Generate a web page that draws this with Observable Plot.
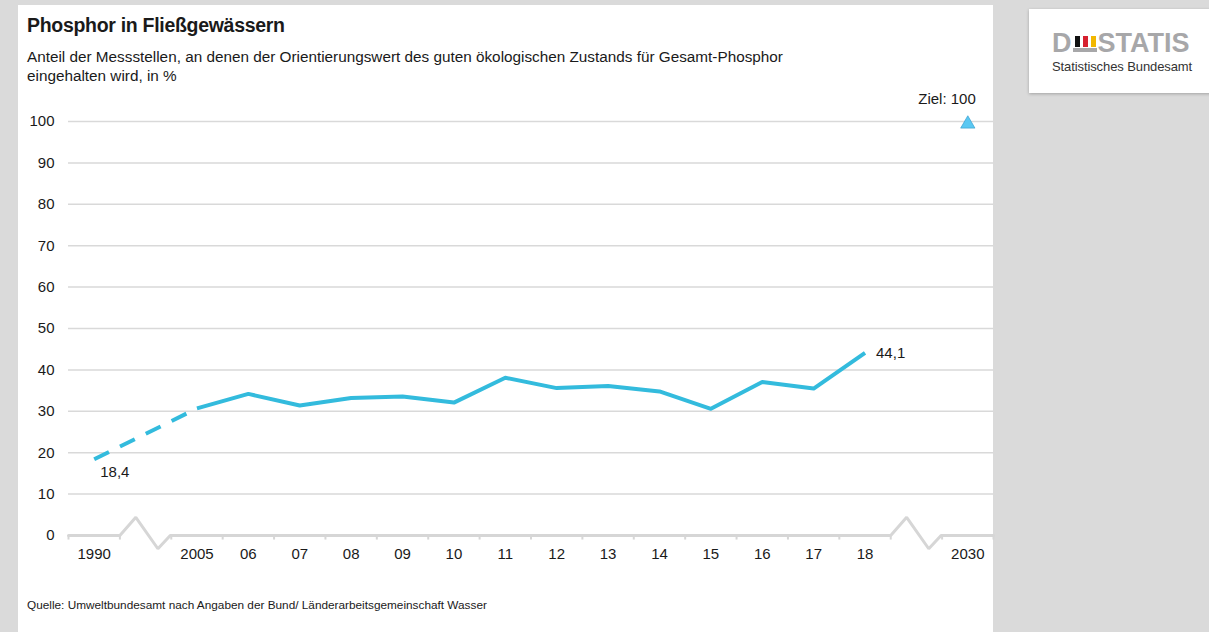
<!DOCTYPE html>
<html><head><meta charset="utf-8">
<script src="https://cdn.jsdelivr.net/npm/d3@7"></script>
<script src="https://cdn.jsdelivr.net/npm/@observablehq/plot@0.6"></script>
<style>
body{margin:0;width:1209px;height:632px;background:#dadada;overflow:hidden;font-family:"Liberation Sans",Arial,sans-serif;color:#1a1a1a;position:relative}
#panel{position:absolute;left:18px;top:5px;width:975px;height:627px;background:#fff}
#title{position:absolute;left:27px;top:16px;font-weight:bold;font-size:19.5px;line-height:1;letter-spacing:-0.3px;white-space:nowrap}
#subtitle{position:absolute;left:27px;top:47px;font-size:15.3px;line-height:19px;white-space:nowrap}
#chart{position:absolute;left:18px;top:90px}
#source{position:absolute;left:27px;top:600px;font-size:11.8px;line-height:1;white-space:nowrap}
#logo{position:absolute;left:1029px;top:9px;width:190px;height:84px;background:#fff;box-shadow:0 1px 3px rgba(0,0,0,0.25)}
#brand{position:absolute;left:23px;top:21px;font-weight:bold;font-size:27px;line-height:1;color:#a7a7a9;white-space:nowrap}
#brand span{display:inline-block;vertical-align:baseline}
#emark{position:relative;width:24px;height:19px;margin:0 1px 0 1px}
#emark i{position:absolute;bottom:5px;width:5px;height:11px}
#emark .base{left:0;bottom:0;width:24px;height:4px;background:#a7a7a9}
#sub{position:absolute;left:23px;top:50px;font-size:13px;color:#333;white-space:nowrap;letter-spacing:-0.1px}
</style></head>
<body>
<div id="panel"></div>
<div id="title">Phosphor in Fließgewässern</div>
<div id="subtitle">Anteil der Messstellen, an denen der Orientierungswert des guten ökologischen Zustands für Gesamt-Phosphor<br>eingehalten wird, in %</div>
<div id="chart"></div>
<div id="source">Quelle: Umweltbundesamt nach Angaben der Bund/ Länderarbeitsgemeinschaft Wasser</div>
<div id="logo">
  <div id="brand"><span>D</span><span id="emark"><i style="left:2px;background:#111"></i><i style="left:10px;background:#d6202f"></i><i style="left:18px;background:#f2b700"></i><i class="base"></i></span><span>STATIS</span></div>
  <div id="sub">Statistisches Bundesamt</div>
</div>
<script>
// ---- data ----
const axisSlots = ["1990","break","2005","2006","2007","2008","2009","2010","2011","2012","2013","2014","2015","2016","2017","2018","break","2030"];
const tickLabels = ["1990","","2005","06","07","08","09","10","11","12","13","14","15","16","17","18","","2030"];
const years = ["1990","2005","2006","2007","2008","2009","2010","2011","2012","2013","2014","2015","2016","2017","2018"];
const values = [18.4, 30.7, 34.2, 31.4, 33.2, 33.6, 32.1, 38.1, 35.6, 36.1, 34.8, 30.6, 37.1, 35.5, 44.1];
const targetYear = "2030";
const targetValue = 100;
const targetLabel = "Ziel: 100";
const yTicks = [0,10,20,30,40,50,60,70,80,90,100];

// ---- derived ----
const slotOf = y => axisSlots.indexOf(y);
const series = years.map((y, i) => ({year: y, slot: slotOf(y), value: values[i]}));
const dashed = series.slice(0, 2);
const solid = series.slice(1);
const first = series[0], last = series[series.length - 1];
const target = [{slot: slotOf(targetYear), value: targetValue, label: targetLabel}];
const breaks = axisSlots.map((s, i) => s === "break" ? i : -1).filter(i => i >= 0);
const n = axisSlots.length;
const baseline = [{x: -0.5, y: 0}];
for (const b of breaks) {
  baseline.push({x: b - 0.5, y: 0}, {x: b - 0.19, y: 4.4}, {x: b + 0.24, y: -3.2}, {x: b + 0.48, y: 0});
}
baseline.push({x: n - 0.5, y: 0});
const boundaries = d3.range(n + 1).map(i => i - 0.5);
const labeledSlots = tickLabels.map((t, i) => t ? i : -1).filter(i => i >= 0);
const fmt = v => v.toFixed(1).replace(".", ",");
const lineColor = "#33bbdd";
const axisColor = "#d6d6d6";

const chart = Plot.plot({
  width: 975, height: 490,
  marginLeft: 50, marginRight: 0, marginTop: 31, marginBottom: 45,
  x: {type: "linear", domain: [-0.5, n - 0.5], axis: null},
  y: {domain: [0, 100], axis: null},
  style: {fontFamily: "'Liberation Sans', Arial, sans-serif", fontSize: "15px", color: "#1a1a1a", background: "transparent", overflow: "visible"},
  marks: [
    Plot.gridY(yTicks.filter(t => t > 0), {stroke: "#d9d9d9", strokeOpacity: 1, strokeWidth: 1.5}),
    Plot.axisY(yTicks, {tickSize: 0, tickPadding: 14, fontSize: 15}),
    Plot.axisX(labeledSlots, {tickSize: 0, tickPadding: 13, fontSize: 15, tickFormat: i => tickLabels[i]}),
    Plot.line(baseline, {x: "x", y: "y", stroke: axisColor, strokeWidth: 3, strokeLinejoin: "miter"}),
    Plot.ruleX(boundaries, {x: d => d, y1: 0, y2: -1.1, stroke: axisColor, strokeWidth: 2}),
    Plot.line(dashed, {x: "slot", y: "value", stroke: lineColor, strokeWidth: 4, strokeDasharray: "16.5,12.3", strokeLinecap: "butt"}),
    Plot.line(solid, {x: "slot", y: "value", stroke: lineColor, strokeWidth: 4, strokeLinejoin: "round", strokeLinecap: "butt"}),
    Plot.dot(target, {x: "slot", y: "value", symbol: "triangle", r: 5.3, dy: 2.5, fill: "#5ac8f2", stroke: "#3a9fd0", strokeWidth: 0.7}),
    Plot.text(target, {x: "slot", y: "value", text: "label", textAnchor: "end", dx: 8, dy: -22, fontSize: 15}),
    Plot.text([first], {x: "slot", y: "value", text: d => fmt(d.value), textAnchor: "start", dx: 6, dy: 13, fontSize: 15}),
    Plot.text([last], {x: "slot", y: "value", text: d => fmt(d.value), textAnchor: "start", dx: 11, dy: 0, fontSize: 15})
  ]
});
document.getElementById("chart").appendChild(chart);
</script>
</body></html>
